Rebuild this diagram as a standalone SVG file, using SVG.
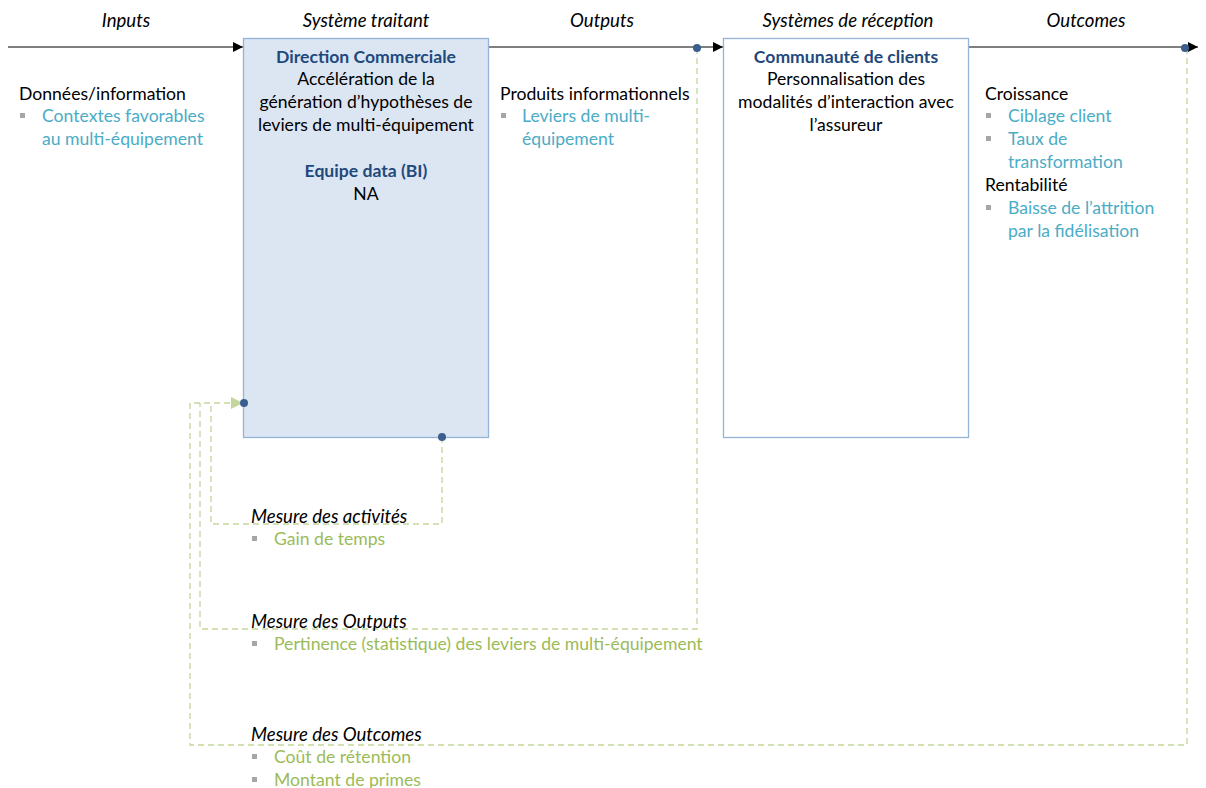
<svg xmlns="http://www.w3.org/2000/svg" width="1206" height="788" viewBox="0 0 1206 788">
<style>
text{font-family:Lato,"Open Sans","Liberation Sans",sans-serif;font-size:17.6px;fill:#000}
.hd{font-style:italic;text-anchor:middle;font-size:18.6px}
.it{font-style:italic;font-size:18.6px}
.c{text-anchor:middle}
.b{font-weight:bold;fill:#1f497d}
.blue{fill:#4bacc6}
.green{fill:#9bbb59}
.box{stroke:#95b3d7;stroke-width:1.3}
.main{stroke:#000;stroke-width:1.2;fill:none}
.fb{stroke:#c3d69b;stroke-width:1.3;stroke-dasharray:6 4;fill:none}
.dot{fill:#3a5f8f}
.sq{fill:#a6a6a6}
</style>
<defs>
<marker id="ah" viewBox="0 0 10 10" refX="10" refY="5" markerWidth="10" markerHeight="10" markerUnits="userSpaceOnUse" orient="auto"><path d="M0,0 L10,5 L0,10 z" fill="#000"/></marker>
<marker id="ag" viewBox="0 0 12 12" refX="12" refY="6" markerWidth="12" markerHeight="12" markerUnits="userSpaceOnUse" orient="auto"><path d="M0,0 L12,6 L0,12 z" fill="#c3d69b"/></marker>
</defs>
<g id="headers">
<text class="hd" x="126" y="27">Inputs</text>
<text class="hd" x="366" y="27">Système traitant</text>
<text class="hd" x="602" y="27">Outputs</text>
<text class="hd" x="848" y="27">Systèmes de réception</text>
<text class="hd" x="1086" y="27">Outcomes</text>
</g>
<g id="connectors">
<line class="main" x1="8" y1="47" x2="243" y2="47" marker-end="url(#ah)"/>
<line class="main" x1="489" y1="47" x2="723" y2="47" marker-end="url(#ah)"/>
<line class="main" x1="969" y1="47" x2="1198" y2="47" marker-end="url(#ah)"/>
<path class="fb" d="M442,437 V524 H211 V403"/>
<path class="fb" d="M697,48 V629 H200 V403"/>
<path class="fb" d="M1187,48 V745 H190 V403 H243" marker-end="url(#ag)"/>
</g>
<g id="node-systeme-traitant">
<rect class="box" x="243.5" y="38.5" width="245" height="399" fill="#dce6f2"/>
<text class="c b" x="366" y="63">Direction Commerciale</text>
<text class="c" x="366" y="85">Accélération de la</text>
<text class="c" x="366" y="108">génération d’hypothèses de</text>
<text class="c" x="366" y="131">leviers de multi-équipement</text>
<text class="c b" x="366" y="177">Equipe data (BI)</text>
<text class="c" x="366" y="200">NA</text>
</g>
<g id="node-systemes-reception">
<rect class="box" x="723.5" y="38.5" width="245" height="399" fill="#fff"/>
<text class="c b" x="846" y="63">Communauté de clients</text>
<text class="c" x="846" y="85">Personnalisation des</text>
<text class="c" x="846" y="108">modalités d’interaction avec</text>
<text class="c" x="846" y="131">l’assureur</text>
</g>
<g id="dots">
<circle class="dot" cx="697" cy="48" r="4"/>
<circle class="dot" cx="1185" cy="48" r="4"/>
<circle class="dot" cx="244" cy="403" r="4"/>
<circle class="dot" cx="442" cy="437" r="4"/>
</g>
<g id="inputs">
<text x="19" y="100">Données/information</text>
<rect class="sq" x="20" y="113" width="5" height="5"/>
<text class="blue" x="42" y="122">Contextes favorables</text>
<text class="blue" x="42" y="145">au multi-équipement</text>
</g>
<g id="outputs">
<text x="500" y="100">Produits informationnels</text>
<rect class="sq" x="501" y="113" width="5" height="5"/>
<text class="blue" x="522" y="122">Leviers de multi-</text>
<text class="blue" x="522" y="145">équipement</text>
</g>
<g id="outcomes">
<text x="985" y="100">Croissance</text>
<rect class="sq" x="986" y="113" width="5" height="5"/>
<text class="blue" x="1008" y="122">Ciblage client</text>
<rect class="sq" x="986" y="136" width="5" height="5"/>
<text class="blue" x="1008" y="145">Taux de</text>
<text class="blue" x="1008" y="168">transformation</text>
<text x="985" y="191">Rentabilité</text>
<rect class="sq" x="986" y="205" width="5" height="5"/>
<text class="blue" x="1008" y="214">Baisse de l’attrition</text>
<text class="blue" x="1008" y="237">par la fidélisation</text>
</g>
<g id="mesures">
<text class="it" x="251" y="523">Mesure des activités</text>
<rect class="sq" x="252" y="536" width="5" height="5"/>
<text class="green" x="274" y="545">Gain de temps</text>
<text class="it" x="251" y="628">Mesure des Outputs</text>
<rect class="sq" x="252" y="641" width="5" height="5"/>
<text class="green" x="274" y="650">Pertinence (statistique) des leviers de multi-équipement</text>
<text class="it" x="251" y="741">Mesure des Outcomes</text>
<rect class="sq" x="252" y="754" width="5" height="5"/>
<text class="green" x="274" y="763">Coût de rétention</text>
<rect class="sq" x="252" y="777" width="5" height="5"/>
<text class="green" x="274" y="786">Montant de primes</text>
</g>
</svg>
